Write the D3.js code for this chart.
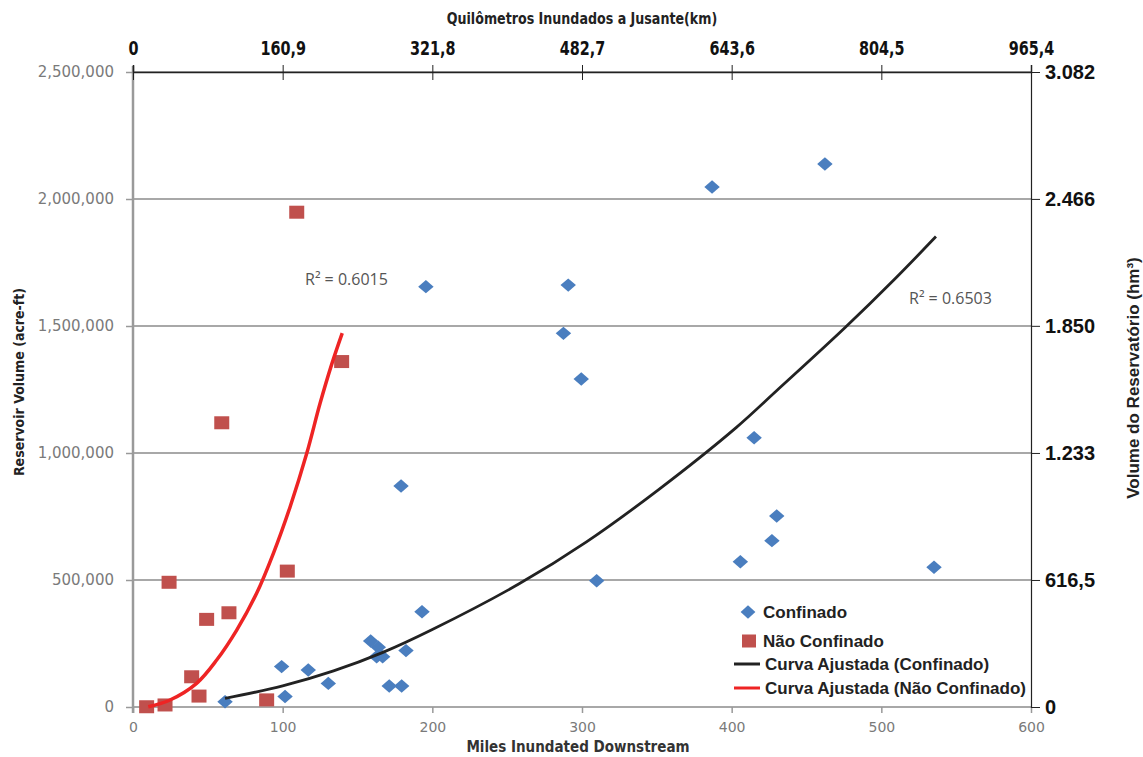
<!DOCTYPE html>
<html>
<head>
<meta charset="utf-8">
<script src="https://cdn.jsdelivr.net/npm/d3@7"></script>
<style>
  html, body { margin: 0; padding: 0; background: #fff; }
  svg { display: block; }
</style>
</head>
<body>
<svg id="chart" width="1143" height="757"></svg>
<script>
// Confined reservoirs: miles inundated downstream vs. reservoir volume (acre-ft)
const confinedMiles = [462.3, 386.9, 195.7, 290.8, 287.6, 299.5, 415.0, 179.1, 430.1, 426.9, 405.8, 535.2, 309.8, 193.1,
                       158.8, 163.9, 162.8, 166.8, 182.4, 99.3, 117.1, 130.5, 171.2, 179.5, 101.6, 61.5];
const confinedVolume = [2138000, 2047000, 1655000, 1661000, 1471000, 1291000, 1060000, 870000, 752000, 655000, 572000, 550000, 497000, 375000,
                        260000, 235000, 198000, 198000, 222000, 159000, 146000, 93000, 83000, 83000, 41000, 21000];

// Unconfined reservoirs
const unconfinedMiles = [109.4, 139.4, 59.3, 103.1, 24.1, 49.2, 64.1, 39.2, 44.1, 89.3, 9.1, 21.4];
const unconfinedVolume = [1948000, 1360000, 1119000, 535000, 491000, 345000, 371000, 119000, 43000, 28000, 1000, 8000];

// Fitted trend curves
const confinedFitMiles = [61.5, 100, 134, 167, 200, 258, 303, 351, 403, 430, 476, 509, 536.5];
const confinedFitVolume = [34000, 83000, 142000, 215000, 305000, 485000, 650000, 855000, 1100000, 1245000, 1495000, 1685000, 1852000];
const unconfinedFitMiles = [10.2, 24.7, 42.5, 55.9, 69.3, 82.6, 93.8, 105, 116.1, 125, 132.8, 139.8];
const unconfinedFitVolume = [1000, 27600, 93300, 185000, 303000, 447600, 605000, 788600, 998800, 1195600, 1350000, 1472000];

// Axis ticks
const milesTicks = [0, 100, 200, 300, 400, 500, 600];
const volumeTicks = [0, 500000, 1000000, 1500000, 2000000, 2500000];
const kmTicks = [0, 160.9, 321.8, 482.7, 643.6, 804.5, 965.4];
const hm3Ticks = [0, 616.5, 1233, 1850, 2466, 3082];

const r2Confined = "R² = 0.6503";
const r2Unconfined = "R² = 0.6015";

const legendLabels = ["Confinado", "Não Confinado", "Curva Ajustada (Confinado)", "Curva Ajustada (Não Confinado)"];

const svg = d3.select("#chart");
const L = 133, R = 1031, T = 72, B = 707;

const x = d3.scaleLinear().domain([0, 600]).range([L, R]);
const y = d3.scaleLinear().domain([0, 2500000]).range([B, T]);
const xKm = d3.scaleLinear().domain([0, 965.4]).range([L, R]);
const yHm = d3.scaleLinear().domain([0, 3082]).range([B, T]);

const ptBR = d3.formatLocale({decimal: ",", thousands: ".", grouping: [3], currency: ["", ""]});
const fmtBR = ptBR.format(",");

const grayFont = "'DejaVu Sans', sans-serif";
const narrowFont = "'Liberation Sans Narrow', 'DejaVu Sans Condensed', 'Liberation Sans', sans-serif";
const boldFont = "'Liberation Sans', Arial, sans-serif";

// Horizontal gridlines
svg.append("g").selectAll("line").data(volumeTicks).join("line")
  .attr("x1", L).attr("x2", R)
  .attr("y1", d => y(d)).attr("y2", d => y(d))
  .attr("stroke", "#a8a8a8").attr("stroke-width", 2);

// Left axis (acre-ft)
const leftAxis = svg.append("g").attr("transform", `translate(${L},0)`)
  .call(d3.axisLeft(y).tickValues(volumeTicks).tickFormat(d3.format(",")).tickSize(7).tickPadding(12));
leftAxis.select(".domain").remove();
leftAxis.selectAll(".tick line").attr("stroke", "#999").attr("stroke-width", 1.5);
leftAxis.selectAll("text").attr("font-family", grayFont).attr("font-size", 15).attr("fill", "#7a7a7a");
svg.append("line").attr("x1", L).attr("x2", L).attr("y1", T - 6).attr("y2", B + 6)
  .attr("stroke", "#9a9a9a").attr("stroke-width", 2.5);

// Bottom axis (miles)
const bottomAxis = svg.append("g").attr("transform", `translate(0,${B})`)
  .call(d3.axisBottom(x).tickValues(milesTicks).tickFormat(d3.format("d")).tickSize(6).tickPadding(9));
bottomAxis.select(".domain").remove();
bottomAxis.selectAll(".tick line").attr("stroke", "#999").attr("stroke-width", 1.5);
bottomAxis.selectAll("text").attr("font-family", grayFont).attr("font-size", 14).attr("fill", "#7a7a7a");

// Top axis (km)
const topAxis = svg.append("g").attr("transform", `translate(0,${T})`)
  .call(d3.axisTop(xKm).tickValues(kmTicks).tickFormat(fmtBR).tickSize(7).tickPadding(10));
topAxis.select(".domain").attr("stroke", "#222").attr("stroke-width", 1.5);
topAxis.selectAll(".tick line").attr("y2", 8).attr("y1", -7).attr("stroke", "#222");
topAxis.selectAll("text").attr("font-family", narrowFont).attr("font-weight", "bold")
  .attr("font-size", 20).attr("fill", "#111").attr("transform", "scale(0.8,1)");

// Right axis (hm³)
const rightAxis = svg.append("g").attr("transform", `translate(${R},0)`)
  .call(d3.axisRight(yHm).tickValues(hm3Ticks).tickFormat(fmtBR).tickSize(9).tickPadding(5));
rightAxis.select(".domain").attr("stroke", "#222").attr("stroke-width", 1.2);
rightAxis.selectAll(".tick line").attr("stroke", "#222");
rightAxis.selectAll("text").attr("font-family", boldFont).attr("font-weight", "bold")
  .attr("font-size", 20).attr("fill", "#111");

// Axis titles
svg.append("text").attr("transform", "translate(582,24) scale(0.88,1)").attr("text-anchor", "middle")
  .attr("font-family", narrowFont).attr("font-weight", "bold").attr("font-size", 16).attr("fill", "#222")
  .text("Quilômetros Inundados a Jusante(km)");
svg.append("text").attr("x", 578).attr("y", 752).attr("text-anchor", "middle")
  .attr("font-family", narrowFont).attr("font-weight", "bold").attr("font-size", 15).attr("fill", "#333")
  .text("Miles Inundated Downstream");
svg.append("text").attr("transform", "translate(24,382) rotate(-90)").attr("text-anchor", "middle")
  .attr("font-family", narrowFont).attr("font-weight", "bold").attr("font-size", 14).attr("fill", "#222")
  .text("Reservoir Volume (acre-ft)");
svg.append("text").attr("transform", "translate(1139,378) rotate(-90)").attr("text-anchor", "middle")
  .attr("font-family", boldFont).attr("font-weight", "bold").attr("font-size", 17).attr("fill", "#222")
  .text("Volume do Reservatório (hm³)");

// Markers
const diamond = d3.symbol().type(d3.symbolDiamond2).size(115);
const blue = "#4a7ebf", red = "#c0504d";

svg.append("g").selectAll("rect").data(unconfinedMiles.map((m, i) => [m, unconfinedVolume[i]])).join("rect")
  .attr("x", d => x(d[0]) - 7.5).attr("y", d => y(d[1]) - 6.5)
  .attr("width", 15).attr("height", 13).attr("fill", red);

svg.append("g").selectAll("path").data(confinedMiles.map((m, i) => [m, confinedVolume[i]])).join("path")
  .attr("d", diamond)
  .attr("transform", d => `translate(${x(d[0])},${y(d[1])}) scale(1.15,1)`)
  .attr("fill", blue);

// Trend curves
const line = d3.line().x(d => x(d[0])).y(d => y(d[1])).curve(d3.curveCatmullRom);
svg.append("path")
  .datum(confinedFitMiles.map((m, i) => [m, confinedFitVolume[i]]))
  .attr("d", line).attr("fill", "none").attr("stroke", "#222").attr("stroke-width", 2.8);
svg.append("path")
  .datum(unconfinedFitMiles.map((m, i) => [m, unconfinedFitVolume[i]]))
  .attr("d", line).attr("fill", "none").attr("stroke", "#ee2424").attr("stroke-width", 3.5);

// R² annotations
const r2Font = "'Open Sans', 'DejaVu Sans', sans-serif";
svg.append("text").attr("x", 305).attr("y", 285).attr("font-family", r2Font).attr("font-size", 16)
  .attr("fill", "#555").text(r2Unconfined);
svg.append("text").attr("x", 909).attr("y", 304).attr("font-family", r2Font).attr("font-size", 16)
  .attr("fill", "#555").text(r2Confined);

// Legend
const lg = svg.append("g");
const legendY = [612, 641, 664, 688];
lg.append("path").attr("d", diamond).attr("transform", `translate(748,${legendY[0]}) scale(1.1,1)`).attr("fill", blue);
lg.append("rect").attr("x", 742).attr("y", legendY[1] - 6.5).attr("width", 14).attr("height", 13).attr("fill", red);
lg.append("line").attr("x1", 734).attr("x2", 760).attr("y1", legendY[2]).attr("y2", legendY[2])
  .attr("stroke", "#222").attr("stroke-width", 3);
lg.append("line").attr("x1", 734).attr("x2", 760).attr("y1", legendY[3]).attr("y2", legendY[3])
  .attr("stroke", "#ee2424").attr("stroke-width", 3);
lg.selectAll("text").data(legendLabels).join("text")
  .attr("x", (d, i) => i < 2 ? 763 : 765)
  .attr("y", (d, i) => legendY[i]).attr("dy", "0.36em")
  .attr("font-family", boldFont).attr("font-weight", "bold").attr("font-size", 17).attr("fill", "#222")
  .text(d => d);
</script>
</body>
</html>
